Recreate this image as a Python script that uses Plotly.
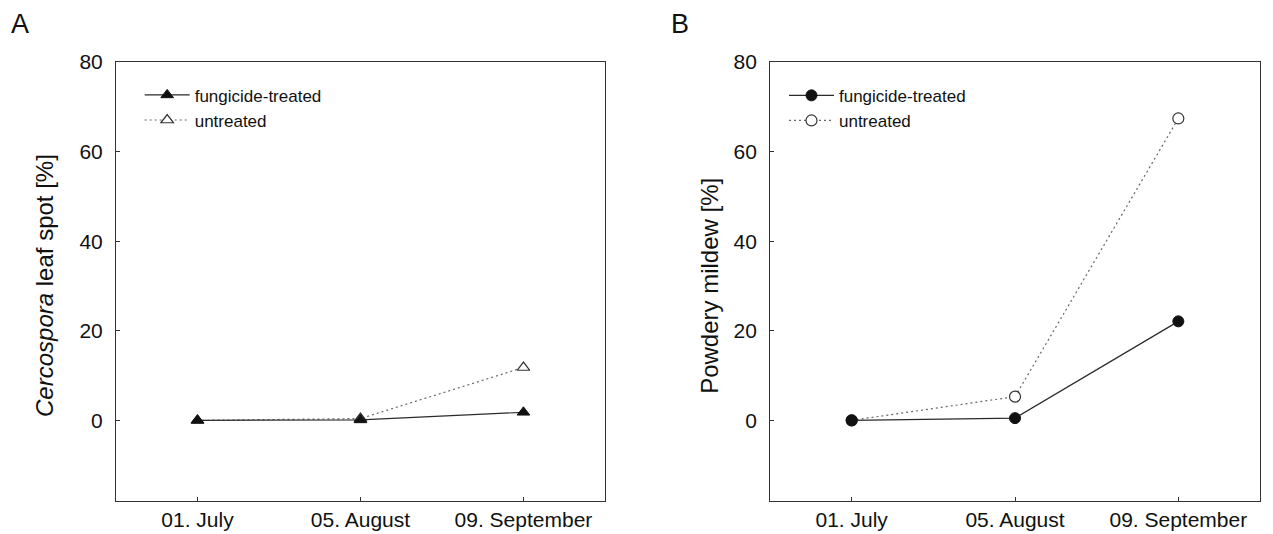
import plotly.graph_objects as go
from plotly.subplots import make_subplots

# Sampling dates and disease severity (%) per treatment
dates = ["01. July", "05. August", "09. September"]
cercospora_treated = [0.0, 0.1, 1.8]
cercospora_untreated = [0.0, 0.4, 11.8]
mildew_treated = [0.0, 0.5, 22.1]
mildew_untreated = [0.0, 5.3, 67.4]
y_ticks = [0, 20, 40, 60, 80]

FONT = "Liberation Sans, Arial, sans-serif"
solid_col = "#2a2a2a"
dot_col = "#666666"

fig = make_subplots(rows=1, cols=2, horizontal_spacing=0.1443)

def add_pair(col, treated, untreated, symbol, legend):
    fig.add_trace(go.Scatter(
        x=dates, y=untreated, name="untreated", mode="lines+markers",
        line=dict(color=dot_col, width=1.2, dash="2px,3px"),
        marker=dict(symbol=symbol, size=11, color="white",
                    line=dict(color="#333333", width=1.2)),
        legend=legend, legendrank=2,
    ), row=1, col=col)
    fig.add_trace(go.Scatter(
        x=dates, y=treated, name="fungicide-treated", mode="lines+markers",
        line=dict(color=solid_col, width=1.2),
        marker=dict(symbol=symbol, size=11, color="#111111",
                    line=dict(color="#111111", width=1)),
        legend=legend, legendrank=1,
    ), row=1, col=col)

add_pair(1, cercospora_treated, cercospora_untreated, "triangle-up", "legend")
add_pair(2, mildew_treated, mildew_untreated, "circle", "legend2")

axis_common = dict(
    showline=True, linecolor="#333333", linewidth=1, mirror=True,
    ticks="inside", ticklen=4, tickcolor="#333333",
    showgrid=False, zeroline=False, automargin=False,
    tickfont=dict(family=FONT, size=21, color="#111111"),
)
for c in (1, 2):
    fig.update_xaxes(type="category", range=[-0.5, 2.5], row=1, col=c,
                     ticklabelstandoff=0, **axis_common)
    fig.update_yaxes(range=[-18, 80], tickvals=y_ticks, row=1, col=c,
                     ticklabelstandoff=8, **axis_common)

legend_common = dict(
    font=dict(family=FONT, size=17, color="#111111"),
    bgcolor="rgba(0,0,0,0)", borderwidth=0,
    xanchor="left", yanchor="top", traceorder="normal",
    itemwidth=45, tracegroupgap=0,
)
fig.update_layout(
    legend=dict(x=0.0207, y=0.965, **legend_common),
    legend2=dict(x=0.5839, y=0.964, **legend_common),
)

title_font = dict(family=FONT, size=24, color="#111111")
annotations = [
    dict(text="A", x=-0.0839, y=1.125, xref="paper", yref="paper",
         xanchor="center", yanchor="top", showarrow=False,
         font=dict(family=FONT, size=27, color="#111111")),
    dict(text="B", x=0.4930, y=1.125, xref="paper", yref="paper",
         xanchor="center", yanchor="top", showarrow=False,
         font=dict(family=FONT, size=27, color="#111111")),
    dict(text="<i>Cercospora</i> leaf spot [%]", textangle=-90,
         x=-0.0620, y=0.49, xref="paper", yref="paper", showarrow=False,
         xanchor="center", yanchor="middle", font=title_font),
    dict(text="Powdery mildew [%]", textangle=-90,
         x=0.5192, y=0.49, xref="paper", yref="paper", showarrow=False,
         xanchor="center", yanchor="middle", font=title_font),
]
fig.update_layout(
    annotations=annotations,
    width=1273, height=534,
    margin=dict(l=116, r=13, t=62, b=33),
    paper_bgcolor="white", plot_bgcolor="white",
    showlegend=True,
)
fig.update_xaxes(domain=[0.0, 0.4274], row=1, col=1)
fig.update_xaxes(domain=[0.5717, 1.0], row=1, col=2)

fig.write_html("out.html")
